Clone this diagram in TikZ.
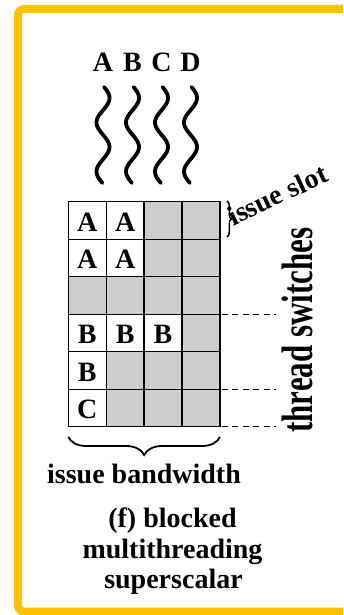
\documentclass[tikz,border=0pt]{standalone}
\usepackage{fontspec}
\setmainfont{Liberation Serif}
\usetikzlibrary{decorations.pathreplacing}
\definecolor{frameyellow}{RGB}{255,192,0}
\definecolor{cellgray}{RGB}{205,205,205}
\begin{document}
\begin{tikzpicture}[x=1pt,y=-1pt,
  lbl/.style={font=\fontsize{28}{33}\selectfont\bfseries, inner sep=0pt, outer sep=0pt},
  celltext/.style={font=\fontsize{28}{30}\selectfont\bfseries, inner sep=0pt},
  cellbox/.style={draw, line width=1.4pt, minimum width=37.9pt, minimum height=37.5pt,
    inner sep=0pt, outer sep=0pt, anchor=north west},
  wave/.style={line width=3.8pt, line cap=round},
  dashline/.style={line width=1.3pt, dash pattern=on 6pt off 4.5pt},
  bracestyle/.style={decorate, line width=1.8pt}]
\useasboundingbox (0,0) rectangle (343,615);
\begin{scope}
  \clip (0,0) rectangle (343,615);
  \draw[frameyellow, line width=8pt, rounded corners=6pt] (18,9) rectangle (380,611.5);
\end{scope}

% thread labels and waves
\foreach \n/\cx in {A/103,B/132.5,C/161.5,D/190.5}{
  \node[lbl, anchor=base] (t\n) at (\cx,72) {\n};
  \draw[wave] plot[domain=87:183, samples=80, smooth] ({\cx+6.5*cos(180*(\x-98)/24.5)},\x);
}

% grid
\foreach \r in {1,...,6}{
  \foreach \c in {1,...,4}{
    \node[cellbox, fill=cellgray] (c\r\c) at ({68.3+37.9*(\c-1)},{201.7+37.5*(\r-1)}) {};
  }
}
\foreach \r/\c/\t in {1/1/A,1/2/A,2/1/A,2/2/A,4/1/B,4/2/B,4/3/B,5/1/B,6/1/C}{
  \node[cellbox, fill=white] (w\r\c) at (c\r\c.north west) {};
  \node[celltext] (l\r\c) at ([yshift=-1.5pt]w\r\c.center) {\t};
}

% thread switch dashed lines
\coordinate (s1) at (276,314.2);
\coordinate (s2) at (276,389.2);
\coordinate (s3) at (276,426.7);
\draw[dashline] ([xshift=2pt]c34.south east) -- (s1);
\draw[dashline] ([xshift=2pt]c54.south east) -- (s2);
\draw[dashline] ([xshift=2pt]c64.south east) -- (s3);
\node[lbl, rotate=90, anchor=base] (ts) at (312,330) {\fontsize{31}{33}\selectfont\scalebox{1}[1.42]{thread switches}};

% issue slot
\coordinate (is1) at (227,201);
\coordinate (is2) at (227,237);
\draw[bracestyle, line width=1.5pt, decoration={brace, amplitude=4.5pt}] (is1) -- (is2);
\node[lbl, rotate=25, anchor=base west] (islot) at (233,226) {issue slot};

% issue bandwidth brace
\coordinate (b1) at (68.3,437);
\coordinate (b2) at (220,437);
\draw[bracestyle, decoration={brace, amplitude=18pt, mirror}] (b1) -- (b2);
\node[lbl, anchor=base] (ib) at (144,483) {issue bandwidth};

% caption
\node[lbl, anchor=base] (cap1) at (172.5,527) {(f) blocked};
\node[lbl, anchor=base] (cap2) at (172.5,558) {multithreading};
\node[lbl, anchor=base] (cap3) at (173.5,588) {superscalar};
\end{tikzpicture}
\end{document}
